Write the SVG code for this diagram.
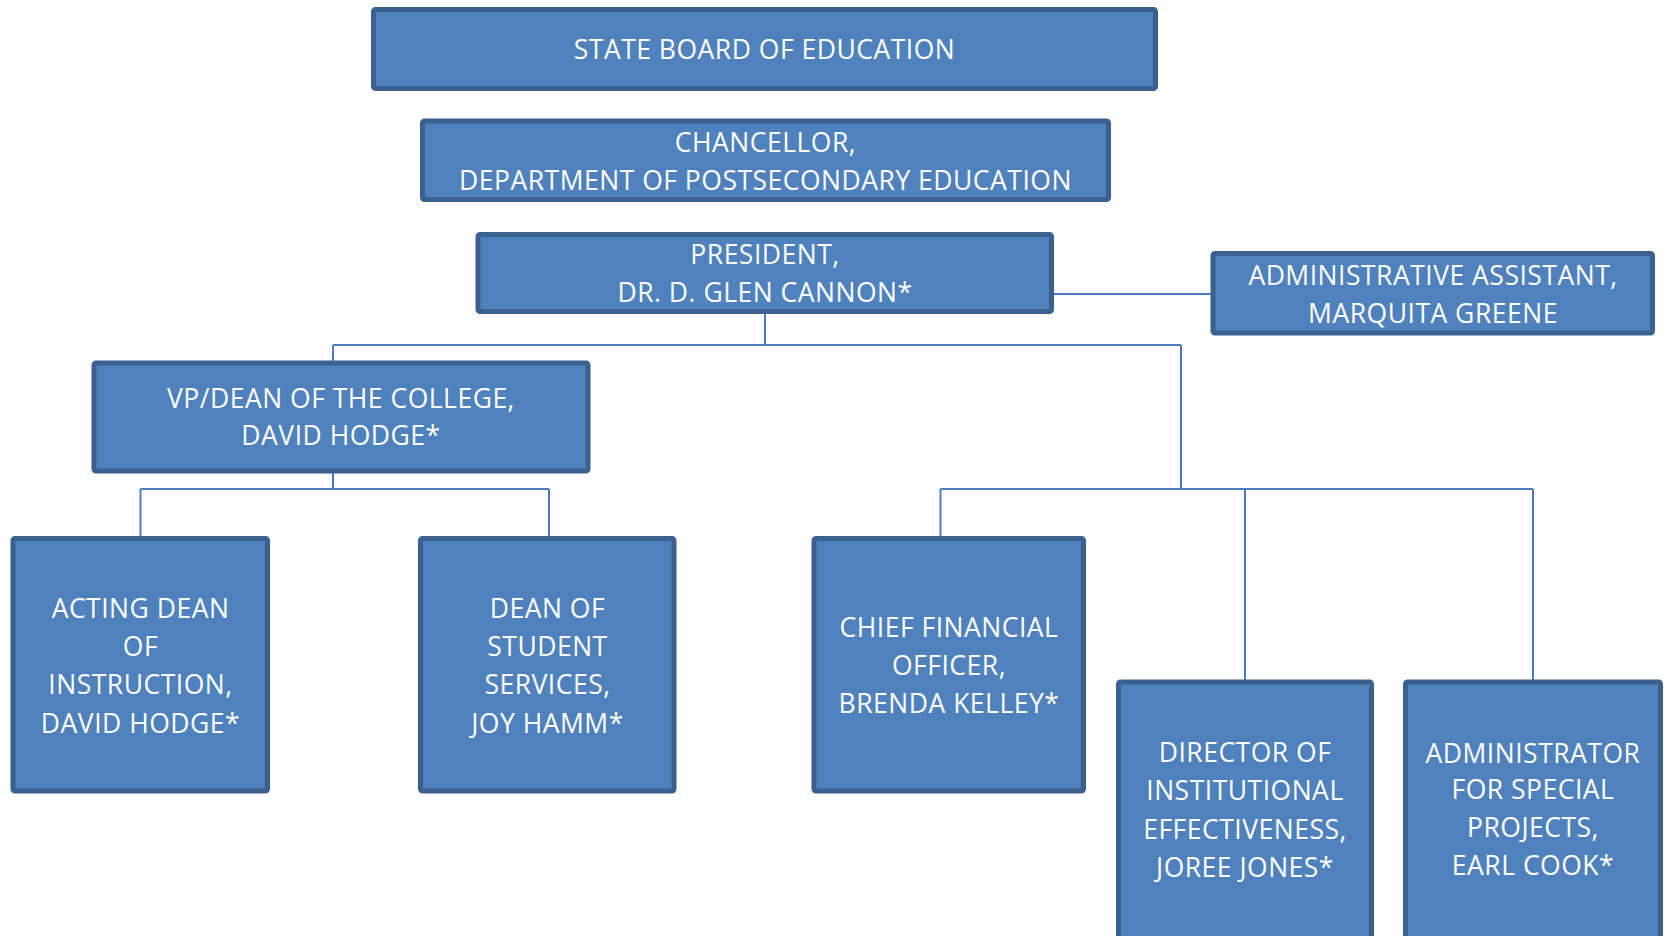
<svg xmlns="http://www.w3.org/2000/svg" width="1668" height="936" viewBox="0 0 1668 936">
<style>
.box{fill:#4F81BD;stroke:#3A6090;stroke-width:5;}
.t{font-family:"Open Sans","Liberation Sans",sans-serif;font-size:26.5px;letter-spacing:0.5px;fill:#FFFFFF;text-anchor:middle;}
.c{fill:none;stroke:#4A7EBB;stroke-width:2;}
</style>
<rect width="1668" height="936" fill="#FFFFFF"/>
<g id="connectors">
<path class="c" d="M1054 294 H1212"/>
<path class="c" d="M765 314 V345 M333 345 H1181 M333 345 V361 M1181 345 V489"/>
<path class="c" d="M333 473 V489 M140.5 489 H549 M140.5 489 V536 M549 489 V536"/>
<path class="c" d="M940.5 489 H1533 M940.5 489 V536 M1245 489 V680 M1533 489 V680"/>
</g>
<g id="state-board">
<rect class="box" x="373.5" y="9.5" width="782" height="79" rx="2"/>
<text class="t" x="764.5" y="59">STATE BOARD OF EDUCATION</text>
</g>
<g id="chancellor">
<rect class="box" x="422.5" y="121" width="686" height="78.5" rx="2"/>
<text class="t" x="765.5" y="151.5">CHANCELLOR,</text>
<text class="t" x="765.5" y="189.5">DEPARTMENT OF POSTSECONDARY EDUCATION</text>
</g>
<g id="president">
<rect class="box" x="478" y="234.5" width="573.5" height="77" rx="2"/>
<text class="t" x="765" y="264">PRESIDENT,</text>
<text class="t" x="765" y="301.5">DR. D. GLEN CANNON*</text>
</g>
<g id="admin-assistant">
<rect class="box" x="1213" y="253.5" width="439.5" height="79.5" rx="2"/>
<text class="t" x="1433" y="284.5">ADMINISTRATIVE ASSISTANT,</text>
<text class="t" x="1433" y="322.5">MARQUITA GREENE</text>
</g>
<g id="vp-dean">
<rect class="box" x="94" y="363" width="494" height="108" rx="2"/>
<text class="t" x="341" y="408">VP/DEAN OF THE COLLEGE,</text>
<text class="t" x="341" y="445">DAVID HODGE*</text>
</g>
<g id="acting-dean">
<rect class="box" x="13" y="538.5" width="254.5" height="252.5" rx="2"/>
<text class="t" x="140.5" y="617.5">ACTING DEAN</text>
<text class="t" x="140.5" y="655.5">OF</text>
<text class="t" x="140.5" y="694">INSTRUCTION,</text>
<text class="t" x="140.5" y="732.5">DAVID HODGE*</text>
</g>
<g id="dean-student">
<rect class="box" x="420.5" y="538.5" width="253.5" height="252.5" rx="2"/>
<text class="t" x="547.5" y="617.5">DEAN OF</text>
<text class="t" x="547.5" y="655.5">STUDENT</text>
<text class="t" x="547.5" y="694">SERVICES,</text>
<text class="t" x="547.5" y="732.5">JOY HAMM*</text>
</g>
<g id="cfo">
<rect class="box" x="814" y="538.5" width="269.5" height="252.5" rx="2"/>
<text class="t" x="949" y="636.5">CHIEF FINANCIAL</text>
<text class="t" x="949" y="675">OFFICER,</text>
<text class="t" x="949" y="713">BRENDA KELLEY*</text>
</g>
<g id="director">
<rect class="box" x="1118.5" y="682" width="253" height="262" rx="2"/>
<text class="t" x="1245" y="762">DIRECTOR OF</text>
<text class="t" x="1245" y="800">INSTITUTIONAL</text>
<text class="t" x="1245" y="838.5">EFFECTIVENESS,</text>
<text class="t" x="1245" y="877">JOREE JONES*</text>
</g>
<g id="administrator">
<rect class="box" x="1405.5" y="682" width="255" height="262" rx="2"/>
<text class="t" x="1533" y="763">ADMINISTRATOR</text>
<text class="t" x="1533" y="799">FOR SPECIAL</text>
<text class="t" x="1533" y="837">PROJECTS,</text>
<text class="t" x="1533" y="875">EARL COOK*</text>
</g>
</svg>
